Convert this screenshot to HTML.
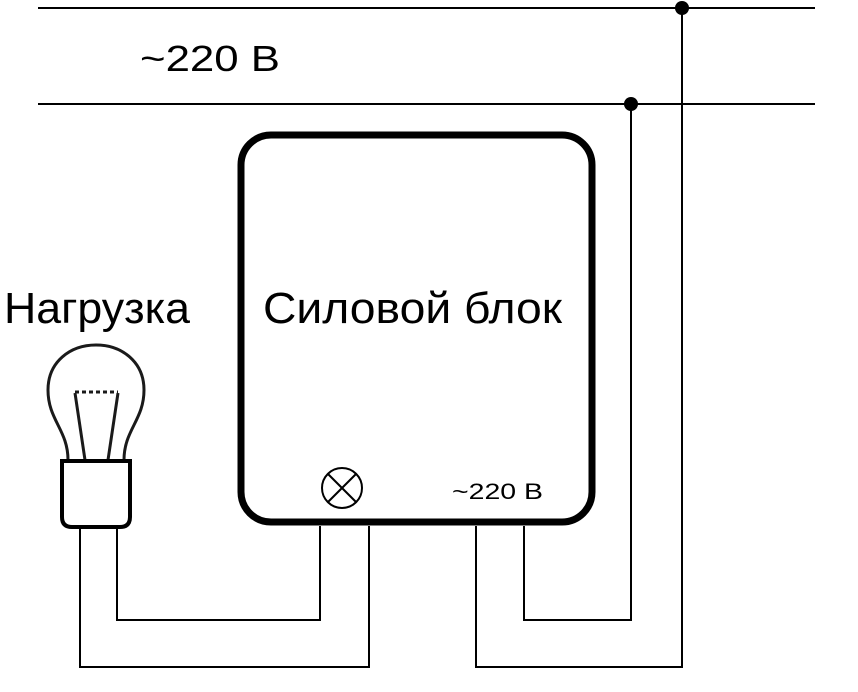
<!DOCTYPE html>
<html><head><meta charset="utf-8"><style>
html,body{margin:0;padding:0;background:#fff;}
svg{display:block;}
text{font-family:"Liberation Sans","DejaVu Sans",sans-serif;fill:#000;}
</style></head><body>
<svg width="858" height="692" viewBox="0 0 858 692" xmlns="http://www.w3.org/2000/svg">
<g stroke="#000" fill="none" stroke-width="2">
<line x1="38" y1="8" x2="815" y2="8"/>
<line x1="38" y1="104" x2="815" y2="104"/>
<polyline points="117,527 117,620 320,620 320,526"/>
<polyline points="80,527 80,667 369,667 369,526"/>
<polyline points="476,526 476,667 682,667 682,8"/>
<polyline points="524,526 524,620 631,620 631,104"/>
<circle cx="342" cy="488" r="20"/>
<line x1="328" y1="474" x2="356" y2="502"/>
<line x1="356" y1="474" x2="328" y2="502"/>
</g>
<rect x="241" y="135" width="351" height="387" rx="30" ry="30" fill="none" stroke="#000" stroke-width="7"/>
<circle cx="682" cy="8" r="7" fill="#000"/>
<circle cx="631" cy="104" r="7" fill="#000"/>
<g stroke="#1a1a1a" fill="none" stroke-width="3">
<path d="M68,460 C68,430 48,420 48,390 C48,362 70,345 96,345 C122,345 144,362 144,390 C144,420 124,430 124,460"/>
<line x1="75" y1="393" x2="85" y2="460"/>
<line x1="118" y1="393" x2="108" y2="460"/>
<line x1="75" y1="392" x2="118" y2="392" stroke-dasharray="4,3"/>
</g>
<path d="M62,461 L130,461 L130,517 Q130,527 120,527 L72,527 Q62,527 62,517 Z" fill="#fff" stroke="#000" stroke-width="4"/>
<text x="140" y="71" font-size="36" textLength="140" lengthAdjust="spacingAndGlyphs">~220 В</text>
<text x="4" y="323" font-size="44" textLength="186" lengthAdjust="spacingAndGlyphs">Нагрузка</text>
<text x="263" y="323" font-size="44" textLength="299" lengthAdjust="spacingAndGlyphs">Силовой блок</text>
<text x="452" y="499" font-size="22" textLength="91" lengthAdjust="spacingAndGlyphs">~220 В</text>
</svg>
</body></html>
